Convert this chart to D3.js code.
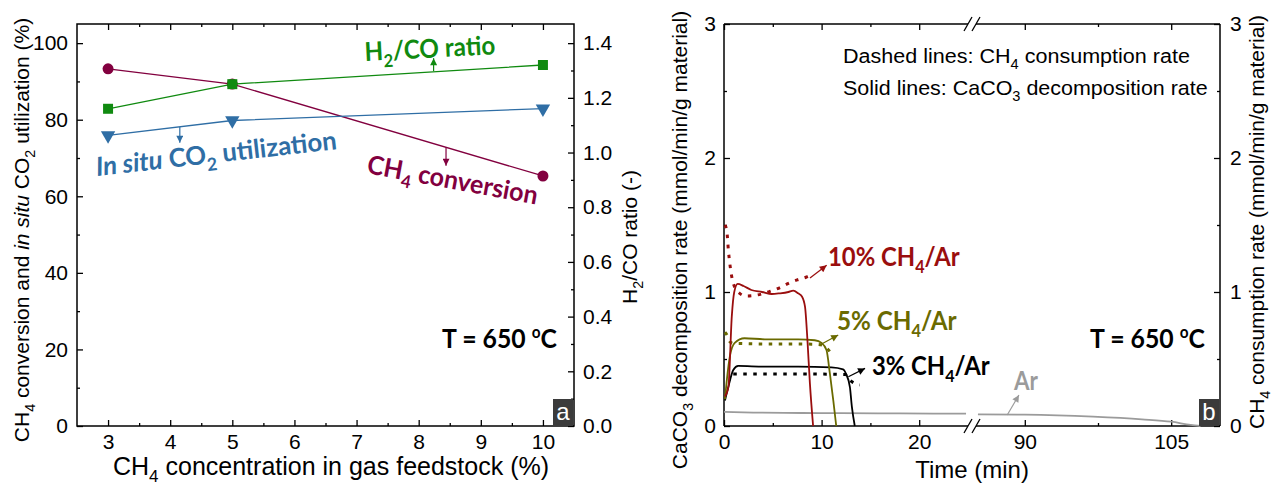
<!DOCTYPE html>
<html>
<head>
<meta charset="utf-8">
<script src="https://cdn.jsdelivr.net/npm/d3@7"></script>
<style>
  body { margin: 0; background: #fff; }
  svg { display: block; }
  text { font-family: "Liberation Sans", Arial, sans-serif; }
  .ann { font-family: Lato, "Open Sans", sans-serif; font-weight: 700; }
</style>
</head>
<body>
<svg id="chart" width="1272" height="486"></svg>
<script>
// ---- panel a: CH4 concentration series ----
const concentration = [3, 5, 10];
const ch4Conversion = [93.3, 89.3, 65.3];
const co2Utilization = [75.9, 79.8, 82.9];
const h2coRatio = [1.16, 1.25, 1.32];

const concTicks = [3, 4, 5, 6, 7, 8, 9, 10];
const concMinor = [3.5, 4.5, 5.5, 6.5, 7.5, 8.5, 9.5];
const pctTicks = [0, 20, 40, 60, 80, 100];
const pctMinor = [10, 30, 50, 70, 90];
const ratioTicks = [0, 0.2, 0.4, 0.6, 0.8, 1.0, 1.2, 1.4];
const ratioMinor = [0.1, 0.3, 0.5, 0.7, 0.9, 1.1, 1.3];

// arrows: [x, from, to] in data units
const arrowRatio = [8.24, 1.298, 1.345];
const arrowUtil = [4.155, 78.1, 74.0];
const arrowConv = [8.44, 72.8, 68.0];

// ---- panel b: rate vs time ----
const t10Solid = [0.1, 0.45, 0.8, 1.05, 1.4, 2.0, 2.8, 3.9, 4.9, 5.7, 6.6, 7.1, 7.6, 8.0, 8.3, 8.55, 8.8, 9.13];
const v10Solid = [0.22, 0.29, 0.82, 1.0, 1.06, 1.045, 1.015, 1.0, 0.985, 0.99, 1.0, 1.01, 0.99, 0.965, 0.89, 0.64, 0.32, 0];
const t10Dash = [0.1, 0.3, 0.45, 0.6, 0.95, 1.6, 2.3, 3.2, 4.1, 4.9, 5.8, 6.6, 7.5, 8.4, 9.0];
const v10Dash = [1.5, 1.45, 1.31, 1.21, 1.065, 0.99, 0.97, 0.975, 0.99, 1.01, 1.035, 1.065, 1.09, 1.11, 1.13];

const t5Solid = [0.1, 0.3, 0.6, 1.1, 2.1, 4.2, 7.6, 9.3, 10.0, 10.5, 10.85, 11.2, 11.5];
const v5Solid = [0.2, 0.35, 0.52, 0.62, 0.655, 0.647, 0.647, 0.64, 0.62, 0.567, 0.39, 0.19, 0];
const t5Dash = [0.1, 0.3, 0.6, 0.95, 1.8, 4.0, 7.0, 9.5, 10.2, 10.85];
const v5Dash = [0.7, 0.68, 0.63, 0.617, 0.615, 0.612, 0.612, 0.61, 0.6, 0.555];

const t3Solid = [0.1, 0.44, 0.95, 1.46, 4.2, 7.6, 11.0, 12.2, 12.5, 12.9, 13.1, 13.4];
const v3Solid = [0.19, 0.29, 0.418, 0.448, 0.443, 0.443, 0.438, 0.423, 0.39, 0.29, 0.144, 0];
const t3Dash = [0.95, 4.0, 8.0, 12.4, 12.9, 13.9];
const v3Dash = [0.388, 0.388, 0.388, 0.385, 0.343, 0.306];

const tArA = [0, 3, 8, 12, 18, 24.8];
const vArA = [0.105, 0.1, 0.097, 0.096, 0.094, 0.092];
const tArB = [85.2, 90, 97, 102, 105, 107, 108];
const vArB = [0.087, 0.085, 0.07, 0.05, 0.032, 0.008, 0];

const timeTicks = [0, 10, 20, 90, 105];
const timeMinor = [5, 15, 97.5];
const rateTicks = [0, 1, 2, 3];
const rateMinor = [0.5, 1.5, 2.5];

// arrows: [t1, v1, t2, v2]
const arrows10 = [8.81, 1.104, 10.52, 1.2];
const arrows5 = [10.0, 0.612, 11.7, 0.679];
const arrows3 = [12.74, 0.368, 14.45, 0.43];
const arrowsAr = [88.2, 0.082, 89.4, 0.231];

const svg = d3.select('#chart');
const defs = svg.append('defs');

function headFor(color) {
  const id = 'h' + color.replace('#', '');
  if (defs.select('#' + id).empty()) {
    defs.append('marker').attr('id', id)
      .attr('viewBox', '0 0 10 10').attr('refX', 10).attr('refY', 5)
      .attr('markerUnits', 'userSpaceOnUse').attr('markerWidth', 8).attr('markerHeight', 7)
      .attr('orient', 'auto')
      .append('path').attr('d', 'M0,0L10,5L0,10z').attr('fill', color);
  }
  return `url(#${id})`;
}

function arrow(x1, y1, x2, y2, color) {
  svg.append('line').attr('x1', x1).attr('y1', y1).attr('x2', x2).attr('y2', y2)
    .attr('stroke', color).attr('stroke-width', 1.2)
    .attr('marker-end', headFor(color));
}

// text with sub/sup/italic parts, optionally squeezed to a given width
function rich(parts, o) {
  const fs = o.fs;
  const t = svg.append('text')
    .attr('font-size', fs)
    .attr('fill', o.fill || '#000')
    .attr('text-anchor', o.anchor || 'start');
  if (o.cls) t.attr('class', o.cls);
  let shift = 0;
  parts.forEach(p => {
    const s = Array.isArray(p) ? p[0] : p;
    const k = Array.isArray(p) ? p[1] : '';
    const span = t.append('tspan').text(s);
    let target = 0;
    if (k === 'sub') { span.attr('font-size', fs * 0.68); target = fs * 0.28; }
    if (k === 'sup') { span.attr('font-size', fs * 0.62); target = -fs * 0.4; }
    if (k === 'i') span.attr('font-style', 'italic');
    if (target !== shift) { span.attr('dy', target - shift); shift = target; }
  });
  let tr = `translate(${o.x},${o.y})`;
  if (o.angle) tr += ` rotate(${o.angle})`;
  if (o.width) {
    const w = t.node().getBBox().width;
    tr += ` scale(${o.width / w},1)`;
  }
  t.attr('transform', tr);
  return t;
}

function ticks(gen, scale, pos, major, minor, fmt, pad, fs) {
  const g = svg.append('g').attr('transform', pos);
  g.append('g').call(gen(scale).tickValues(major).tickSize(-6).tickPadding(pad).tickFormat(fmt));
  g.append('g').call(gen(scale).tickValues(minor).tickSize(-3).tickFormat(''));
  g.selectAll('.domain').remove();
  g.selectAll('g').attr('font-size', fs);
  g.selectAll('text').attr('fill', '#000');
  g.selectAll('line').attr('stroke', '#000').attr('stroke-width', 1.3);
  return g;
}

// ================= panel a =================
const A = { l: 77, r: 574, t: 24, b: 426 };
const xA = d3.scaleLinear().domain([2.5, 10.5]).range([A.l, A.r]);
const yA = d3.scaleLinear().domain([0, 105]).range([A.b, A.t]);
const yA2 = d3.scaleLinear().domain([0, 1.47]).range([A.b, A.t]);

ticks(d3.axisBottom, xA, `translate(0,${A.b})`, concTicks, concMinor, d3.format('d'), 8, 21);
ticks(d3.axisTop, xA, `translate(0,${A.t})`, concTicks, concMinor, '', 9, 21);
ticks(d3.axisLeft, yA, `translate(${A.l},0)`, pctTicks, pctMinor, d3.format('d'), 9, 21);
ticks(d3.axisRight, yA2, `translate(${A.r},0)`, ratioTicks, ratioMinor, d3.format('.1f'), 9, 21);

svg.append('rect').attr('x', A.l).attr('y', A.t)
  .attr('width', A.r - A.l).attr('height', A.b - A.t)
  .attr('fill', 'none').attr('stroke', '#000').attr('stroke-width', 1.5);

const cConv = '#82003f', cUtil = '#2f6ea5', cRatio = '#108a10';
const idx = d3.range(concentration.length);

function seriesA(vals, y, color, symType, size, rot) {
  const line = d3.line().x(i => xA(concentration[i])).y(i => y(vals[i]));
  svg.append('path').attr('d', line(idx)).attr('fill', 'none')
    .attr('stroke', color).attr('stroke-width', 1.3);
  svg.selectAll(null).data(idx).enter().append('path')
    .attr('d', d3.symbol().type(symType).size(size))
    .attr('transform', i => `translate(${xA(concentration[i])},${y(vals[i])}) rotate(${rot})`)
    .attr('fill', color);
}
seriesA(ch4Conversion, yA, cConv, d3.symbolCircle, 95, 0);
seriesA(co2Utilization, yA, cUtil, d3.symbolTriangle, 90, 180);
seriesA(h2coRatio, yA2, cRatio, d3.symbolSquare, 100, 0);

arrow(xA(arrowRatio[0]), yA2(arrowRatio[1]), xA(arrowRatio[0]), yA2(arrowRatio[2]), cRatio);
arrow(xA(arrowUtil[0]), yA(arrowUtil[1]), xA(arrowUtil[0]), yA(arrowUtil[2]), cUtil);
arrow(xA(arrowConv[0]), yA(arrowConv[1]), xA(arrowConv[0]), yA(arrowConv[2]), cConv);

rich(['H', ['2', 'sub'], '/CO ratio'], { x: 365, y: 61, fs: 26, cls: 'ann', fill: cRatio, width: 131, angle: -3 });
rich([['In situ', 'i'], ' CO', ['2', 'sub'], ' utilization'], { x: 97, y: 176, fs: 26, cls: 'ann', fill: cUtil, width: 242, angle: -6.4 });
rich(['CH', ['4', 'sub'], ' conversion'], { x: 366, y: 173, fs: 26, cls: 'ann', fill: cConv, width: 173, angle: 10.5 });
rich(['T = 650 ', ['o', 'sup'], 'C'], { x: 442, y: 348, fs: 26, cls: 'ann', width: 115 });

svg.append('rect').attr('x', 553).attr('y', 399).attr('width', 20).attr('height', 27).attr('fill', '#3b3b3b');
rich(['a'], { x: 563, y: 420, fs: 24, anchor: 'middle', fill: '#fff' }).attr('font-family', 'Lato');

rich(['CH', ['4', 'sub'], ' concentration in gas feedstock (%)'], { x: 331, y: 475, fs: 25, anchor: 'middle' });
rich(['CH', ['4', 'sub'], ' conversion and ', ['in situ', 'i'], ' CO', ['2', 'sub'], ' utilization (%)'],
  { x: 29, y: 230, fs: 21, anchor: 'middle', angle: -90 });
rich(['H', ['2', 'sub'], '/CO ratio (-)'], { x: 637, y: 237, fs: 21, anchor: 'middle', angle: -90 });

// ================= panel b =================
const B = { l: 724, r: 1220, t: 24, b: 426 };
const gap = 8, mid = (B.l + B.r) / 2;
const xB = d3.scaleLinear().domain([0, 25, 85, 110]).range([B.l, mid - gap / 2, mid + gap / 2, B.r]);
const yB = d3.scaleLinear().domain([0, 3]).range([B.b, B.t]);

ticks(d3.axisBottom, xB, `translate(0,${B.b})`, timeTicks, timeMinor, d3.format('d'), 8, 21);
ticks(d3.axisTop, xB, `translate(0,${B.t})`, timeTicks, timeMinor, '', 9, 21);
ticks(d3.axisLeft, yB, `translate(${B.l},0)`, rateTicks, rateMinor, d3.format('d'), 8, 21);
ticks(d3.axisRight, yB, `translate(${B.r},0)`, rateTicks, rateMinor, d3.format('d'), 10, 21);

const frame = svg.append('g').attr('stroke', '#000').attr('stroke-width', 1.5).attr('fill', 'none');
[B.t, B.b].forEach(y => {
  frame.append('line').attr('x1', B.l).attr('x2', xB(25)).attr('y1', y).attr('y2', y);
  frame.append('line').attr('x1', xB(85)).attr('x2', B.r).attr('y1', y).attr('y2', y);
  [xB(25), xB(85)].forEach(c => {
    frame.append('line').attr('x1', c - 4).attr('y1', y + 7).attr('x2', c + 4).attr('y2', y - 7)
      .attr('stroke-width', 1.3);
  });
});
frame.append('line').attr('x1', B.l).attr('x2', B.l).attr('y1', B.t).attr('y2', B.b);
frame.append('line').attr('x1', B.r).attr('x2', B.r).attr('y1', B.t).attr('y2', B.b);

const c10 = '#9a0e0e', c5 = '#6a6a00', c3 = '#000', cAr = '#9b9b9b';

function seriesB(ts, vs, color, dashed) {
  const line = d3.line().curve(d3.curveMonotoneX).x(i => xB(ts[i])).y(i => yB(vs[i]));
  const p = svg.append('path').attr('d', line(d3.range(ts.length)))
    .attr('fill', 'none').attr('stroke', color);
  if (dashed) p.attr('stroke-width', 3).attr('stroke-dasharray', '3.5,6.5');
  else p.attr('stroke-width', 1.8);
}
seriesB(tArA, vArA, cAr, false);
seriesB(tArB, vArB, cAr, false);
seriesB(t3Solid, v3Solid, c3, false);
seriesB(t3Dash, v3Dash, c3, true);
seriesB(t5Solid, v5Solid, c5, false);
seriesB(t5Dash, v5Dash, c5, true);
seriesB(t10Solid, v10Solid, c10, false);
seriesB(t10Dash, v10Dash, c10, true);

[[arrows10, c10], [arrows5, c5], [arrows3, c3], [arrowsAr, cAr]].forEach(([a, c]) => {
  arrow(xB(a[0]), yB(a[1]), xB(a[2]), yB(a[3]), c);
});

rich(['Dashed lines: CH', ['4', 'sub'], ' consumption rate'], { x: 843, y: 63, fs: 21, width: 347 });
rich(['Solid lines: CaCO', ['3', 'sub'], ' decomposition rate'], { x: 843, y: 95, fs: 21, width: 365 });

rich(['10% CH', ['4', 'sub'], '/Ar'], { x: 828, y: 266, fs: 26, cls: 'ann', fill: c10, width: 132 });
rich(['5% CH', ['4', 'sub'], '/Ar'], { x: 837, y: 330, fs: 26, cls: 'ann', fill: c5, width: 120 });
rich(['3% CH', ['4', 'sub'], '/Ar'], { x: 872, y: 375, fs: 26, cls: 'ann', fill: c3, width: 118 });
rich(['Ar'], { x: 1014, y: 390, fs: 26, cls: 'ann', fill: cAr, width: 25 });
rich(['T = 650 ', ['o', 'sup'], 'C'], { x: 1090, y: 348, fs: 26, cls: 'ann', width: 115 });

svg.append('rect').attr('x', 1199).attr('y', 399).attr('width', 20).attr('height', 27).attr('fill', '#3b3b3b');
rich(['b'], { x: 1209, y: 420, fs: 24, anchor: 'middle', fill: '#fff' }).attr('font-family', 'Lato');

rich(['Time (min)'], { x: 972, y: 478, fs: 24, anchor: 'middle' });
rich(['CaCO', ['3', 'sub'], ' decomposition rate (mmol/min/g material)'], { x: 687, y: 240, fs: 21, anchor: 'middle', angle: -90 });
rich(['CH', ['4', 'sub'], ' consumption rate (mmol/min/g material)'], { x: 1264, y: 222, fs: 21, anchor: 'middle', angle: -90 });
</script>
</body>
</html>
